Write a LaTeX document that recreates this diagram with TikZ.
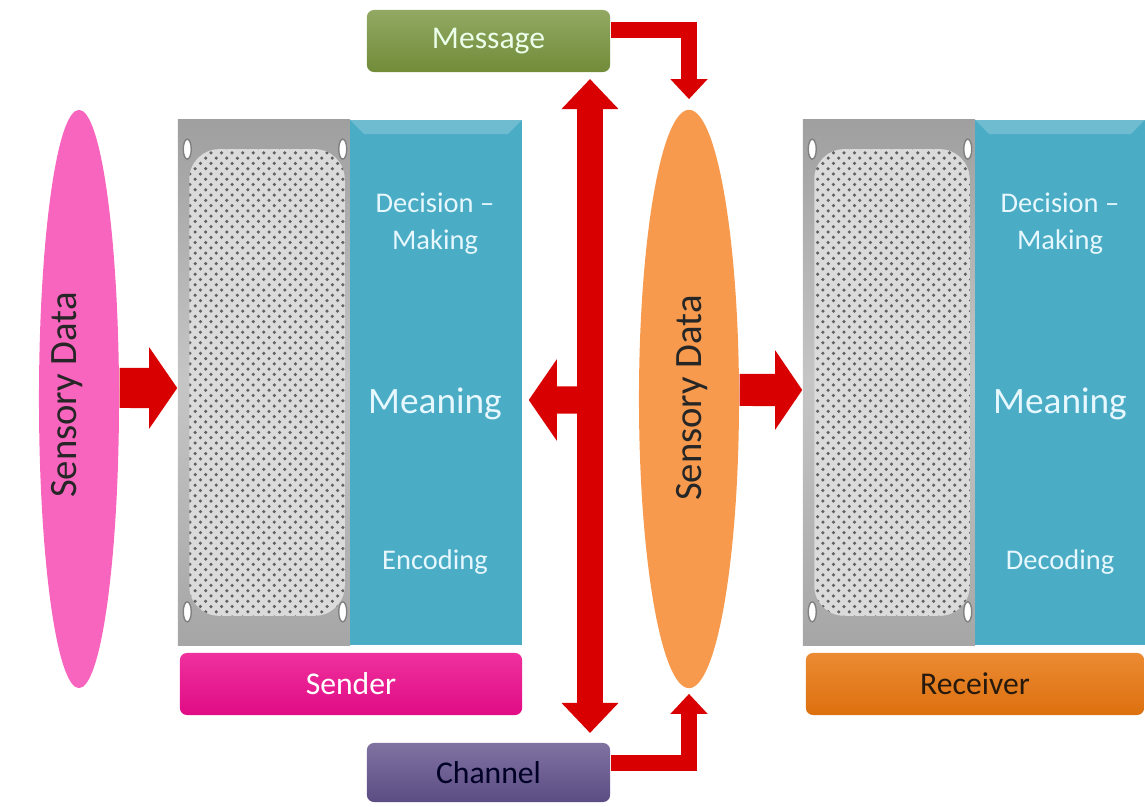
\documentclass[tikz,border=0pt]{standalone}
\usepackage{fontspec}
\setmainfont{Carlito}
\usetikzlibrary{shapes.geometric,arrows.meta,patterns}
\definecolor{panelblue}{HTML}{4BACC6}
\definecolor{msggreen}{HTML}{77933C}
\definecolor{chanpurple}{HTML}{60508A}
\definecolor{sendpink}{HTML}{EC0C8C}
\definecolor{recvorange}{HTML}{E8760F}
\definecolor{sdpink}{HTML}{F865BF}
\definecolor{sdorange}{HTML}{F79A4E}
\definecolor{arrowred}{HTML}{D80000}
\begin{document}
\begin{tikzpicture}[x=0.01cm, y=-0.01cm,
    sdata/.style={ellipse, minimum height=5.78cm, inner sep=0pt},
    sdtext/.style={rotate=90, text=black!85, font=\fontsize{11}{13}\selectfont},
    filterbox/.style={minimum width=1.72cm, minimum height=5.25cm, inner sep=0pt,
        top color=gray!75, bottom color=gray!70, middle color=gray!45},
    panel/.style={fill=panelblue, minimum height=5.25cm, inner sep=0pt},
    paneltext/.style={text=white!90!cyan, align=center, font=\fontsize{8.1}{10.5}\selectfont},
    bigtext/.style={text=white!90!cyan, font=\fontsize{10.6}{12}\selectfont},
    labelbox/.style={rounded corners=0.07cm, minimum height=0.62cm, inner sep=0pt,
        font=\fontsize{9}{11}\selectfont},
    redarrow/.style={draw=arrowred, line join=miter}]
    \useasboundingbox (0,0) rectangle (1145,807);

    \node[sdata, minimum width=0.8cm, fill=sdpink] (sdleft) at (79,399) {};
    \node[sdtext] (sdlefttext) at (67,395) {Sensory Data};
    \node[sdata, minimum width=1.0cm, fill=sdorange] (sdright) at (689,399) {};
    \node[sdtext] (sdrighttext) at (692,398) {Sensory Data};

    \node[filterbox] (sfilter) at (264,382.5) {};
    \node[panel, minimum width=1.72cm] (spanel) at (436,382.5) {};
    \node[filterbox] (rfilter) at (889,382.5) {};
    \node[panel, minimum width=1.70cm] (rpanel) at (1060,382.5) {};

    \foreach \f in {sfilter,rfilter} {
        \fill[gray!28, rounded corners=0.3cm] ([xshift=0.12cm,yshift=-0.3cm]\f.north west) rectangle ([xshift=-0.06cm,yshift=0.3cm]\f.south east);
        \fill[pattern=crosshatch dots, pattern color=gray!75!black, rounded corners=0.3cm] ([xshift=0.12cm,yshift=-0.3cm]\f.north west) rectangle ([xshift=-0.06cm,yshift=0.3cm]\f.south east);
        \filldraw[white, draw=gray] ([xshift=0.1cm,yshift=-0.3cm]\f.north west) ellipse [x radius=0.04cm, y radius=0.1cm];
        \filldraw[white, draw=gray] ([xshift=-0.08cm,yshift=-0.3cm]\f.north east) ellipse [x radius=0.04cm, y radius=0.1cm];
        \filldraw[white, draw=gray] ([xshift=0.1cm,yshift=0.34cm]\f.south west) ellipse [x radius=0.04cm, y radius=0.1cm];
        \filldraw[white, draw=gray] ([xshift=-0.08cm,yshift=0.34cm]\f.south east) ellipse [x radius=0.04cm, y radius=0.1cm];
    }
    \foreach \p in {spanel,rpanel} {
        \fill[white, opacity=0.2] (\p.north west) -- (\p.north east) -- ([xshift=-0.15cm,yshift=-0.15cm]\p.north east) -- ([xshift=0.15cm,yshift=-0.15cm]\p.north west) -- cycle;
    }

    \node[paneltext] (sdec) at (435,224) {Decision –\\Making};
    \node[bigtext] (smean) at (435,404) {Meaning};
    \node[paneltext] (senc) at (435,562) {Encoding};
    \node[paneltext] (rdec) at (1060,224) {Decision –\\Making};
    \node[bigtext] (rmean) at (1060,404) {Meaning};
    \node[paneltext] (rdecode) at (1060,562) {Decoding};

    \node[labelbox, minimum width=2.43cm, top color=msggreen!80!white, bottom color=msggreen!95!black, text=white!92!green] (msg) at (488.5,41) {Message};
    \node[labelbox, minimum width=2.43cm, minimum height=0.59cm, top color=chanpurple!80!white, bottom color=chanpurple!95!black, text=black!85!blue] (chan) at (488.5,772.5) {Channel};
    \node[labelbox, minimum width=3.42cm, top color=sendpink!85!white, bottom color=sendpink!95!black, text=white] (sender) at (351,684) {Sender};
    \node[labelbox, minimum width=3.38cm, top color=recvorange!85!white, bottom color=recvorange!95!black, text=black!80!brown] (receiver) at (975,684) {Receiver};

    \coordinate (chtop) at (590,79);
    \coordinate (chbot) at (590,733);
    \coordinate (chmid) at (590,400);
    \coordinate (msgbend) at (689,30);
    \coordinate (chanbend) at (689,763);

    \draw[redarrow, line width=0.4cm, -{Triangle[width=0.8cm,length=0.28cm]}] ([yshift=0.11cm]sdleft.east) -- ([yshift=-0.055cm]sfilter.west);
    \draw[redarrow, line width=0.27cm, -{Triangle[width=0.8cm,length=0.28cm]}, shorten >=0.06cm] (chmid) -- ([yshift=-0.175cm]spanel.east);
    \draw[redarrow, line width=0.25cm, {Triangle[width=0.55cm,length=0.3cm]}-{Triangle[width=0.55cm,length=0.3cm]}] (chtop) -- (chbot);
    \draw[redarrow, line width=0.32cm, -{Triangle[width=0.78cm,length=0.27cm]}] ([yshift=0.09cm]sdright.east) -- ([yshift=-0.075cm]rfilter.west);
    \draw[redarrow, line width=0.16cm, -{Triangle[width=0.36cm,length=0.2cm]}, shorten >=0.1cm] (msg.east |- msgbend) -| (sdright.north);
    \draw[redarrow, line width=0.16cm, -{Triangle[width=0.36cm,length=0.2cm]}, shorten >=0.05cm] (chan.east |- chanbend) -| (sdright.south);
\end{tikzpicture}
\end{document}
